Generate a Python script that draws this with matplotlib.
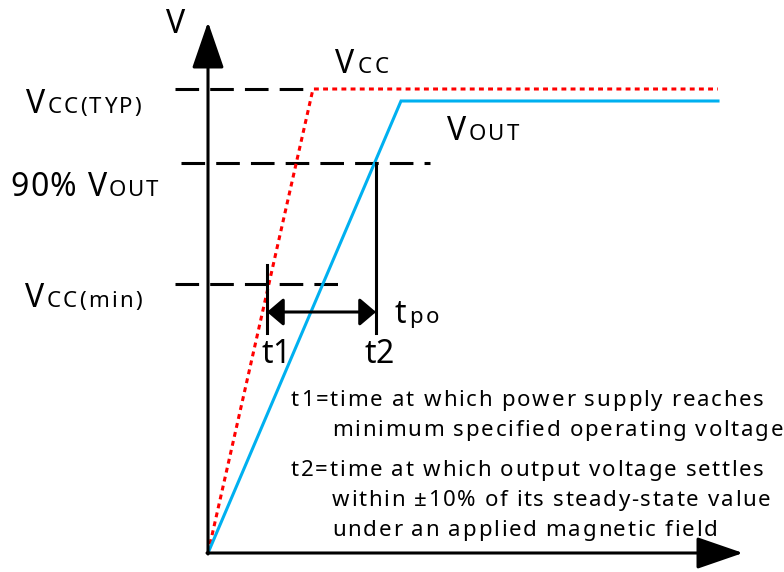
import matplotlib
matplotlib.use("Agg")
import matplotlib.pyplot as plt
from matplotlib.font_manager import FontProperties, findfont, get_font

# ---- diagram data (origin at axis corner, units ~ px) ----
vcc_t = [0, 105, 510]
vcc_v = [0, 464, 464]
vout_t = [0, 193, 510]
vout_v = [0, 452, 452]
vcc_typ = 464
v90 = 390
vcc_min = 269
t1 = 59
t2 = 168
tpo_level = 241

desc_lines = [
    "t1=time at which power supply reaches",
    "minimum specified operating voltage",
    "t2=time at which output voltage settles",
    "within \u00b110% of its steady-state value",
    "under an applied magnetic field",
]

FONT = "Noto Sans"
DPI = 100
W, H = 784, 572
OX, OY = 208, 553  # pixel position of origin
fig = plt.figure(figsize=(W / DPI, H / DPI), dpi=DPI)
ax = fig.add_axes([0, 0, 1, 1])
ax.set_xlim(-OX, W - OX)
ax.set_ylim(OY - H, OY)
ax.axis("off")

LW = 2.2
def dashed(x0, x1, y):
    ax.plot([x0, x1], [y, y], color="black", lw=LW,
            dashes=(17 / LW, 8 / LW), dash_capstyle="butt")

# dashed reference levels
dashed(-33, 104, vcc_typ)
dashed(-27, 222, v90)
dashed(-33, 140, vcc_min)

# curves
ax.plot(vcc_t, vcc_v, color="#ff0000", lw=2.2, dashes=(1.6, 1.4), dash_capstyle="butt")
ax.plot(vout_t, vout_v, color="#00b0f0", lw=2.2, solid_joinstyle="miter")

# axes arrows
arrow_kw = dict(arrowstyle="-|>,head_length=29,head_width=10", lw=2.2, color="black",
                shrinkA=0, shrinkB=0, mutation_scale=1)
ax.annotate("", xy=(0, 531), xytext=(0, -1), arrowprops=arrow_kw)
ax.annotate("", xy=(535, 0), xytext=(-1, 0), arrowprops=arrow_kw)

# t1 / t2 markers
ax.plot([t1, t1], [220, 288], color="black", lw=LW)
ax.plot([t2, t2], [220, v90], color="black", lw=LW)
ax.annotate("", xy=(t1, tpo_level), xytext=(t2, tpo_level),
            arrowprops=dict(arrowstyle="<|-|>,head_length=10,head_width=8.5", lw=2.2,
                            color="black", shrinkA=0, shrinkB=0, mutation_scale=1))

_font_path = findfont(FontProperties(family=FONT))
_meas = get_font(_font_path, hinting_factor=1)

def advance(ch, size):
    _meas.set_size(size, DPI)
    return _meas.load_char(ord(ch)).linearHoriAdvance / 65536.0

def tracked(x_px, base_px, pieces, right_px=None):
    """Draw text pieces (text, size) char by char, spread to end at right_px."""
    chars = [(c, s) for txt, s in pieces for c in txt]
    advs = [advance(c, s) for c, s in chars]
    natural = sum(advs)
    track = 0.0
    if right_px is not None and len(chars) > 1:
        track = (right_px - x_px - natural) / (len(chars) - 1)
        track = max(-1.0, min(track, 3.0))
    x = x_px - OX
    y = OY - base_px
    for (c, s), a in zip(chars, advs):
        if c != " ":
            ax.text(x, y, c, fontsize=s, family=FONT, ha="left", va="baseline")
        x += a + track

BIG, SMALL = 23, 16
tracked(166, 33, [("V", BIG)])
tracked(335, 73, [("V", BIG), ("CC", SMALL)], 389)
tracked(26, 113, [("V", BIG), ("CC(TYP)", SMALL)], 141)
tracked(447, 140, [("V", BIG), ("OUT", SMALL)], 519)
tracked(10, 196, [("90% V", BIG), ("OUT", SMALL)], 158)
tracked(25, 307, [("V", BIG), ("CC(min)", SMALL)], 142)
tracked(395, 323, [("t", BIG), ("po", SMALL)], 439)
tracked(262, 363, [("t1", BIG)], 289)
tracked(365, 363, [("t2", BIG)], 394)

DESC = 16
desc_x = [291, 332, 291, 332, 332]
desc_right = [764, 783, 764, 770, 717]
desc_base = [406, 436, 476, 506, 536]
for line, lx, rx, by in zip(desc_lines, desc_x, desc_right, desc_base):
    tracked(lx, by, [(line, DESC)], rx)

fig.savefig("out.png", dpi=DPI)
